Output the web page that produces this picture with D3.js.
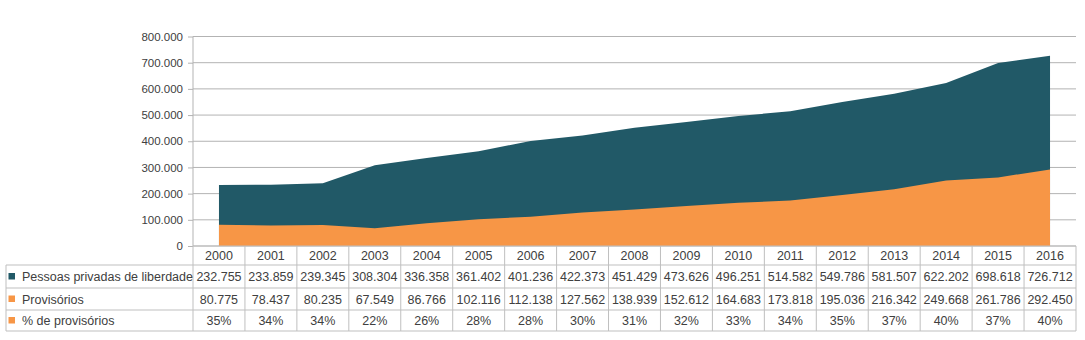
<!DOCTYPE html>
<html>
<head>
<meta charset="utf-8">
<script src="https://cdn.jsdelivr.net/npm/d3@7"></script>
<style>
  html, body { margin: 0; padding: 0; background: #fff; }
  svg text { font-family: "Liberation Sans", Arial, sans-serif; fill: #404040; }
</style>
</head>
<body>
<svg id="chart" width="1085" height="340"></svg>
<script>
// Pessoas privadas de liberdade e presos provisórios, 2000–2016
const years = ["2000","2001","2002","2003","2004","2005","2006","2007","2008","2009","2010","2011","2012","2013","2014","2015","2016"];
const pessoas = [232755, 233859, 239345, 308304, 336358, 361402, 401236, 422373, 451429, 473626, 496251, 514582, 549786, 581507, 622202, 698618, 726712];
const provisorios = [80775, 78437, 80235, 67549, 86766, 102116, 112138, 127562, 138939, 152612, 164683, 173818, 195036, 216342, 249668, 261786, 292450];
const pctLabels = ["35%","34%","34%","22%","26%","28%","28%","30%","31%","32%","33%","34%","35%","37%","40%","37%","40%"];
const yTicks = [0, 100000, 200000, 300000, 400000, 500000, 600000, 700000, 800000];
const seriesNames = ["Pessoas privadas de liberdade", "Provisórios", "% de provisórios"];

const colDark = "#215967";
const colOrange = "#F79646";
const gridCol = "#b3b3b3";

const locale = d3.formatLocale({ decimal: ",", thousands: ".", grouping: [3], currency: ["R$", ""] });
const fmt = locale.format(",d");

const svg = d3.select("#chart");
const plotLeft = 193, plotRight = 1076, plotTop = 36.5, plotBottom = 246;

const x = d3.scaleBand().domain(years).range([plotLeft, plotRight]).paddingInner(0).paddingOuter(0);
const xc = d => x(d) + x.bandwidth() / 2;
const y = d3.scaleLinear().domain([0, 800000]).range([plotBottom, plotTop]);

// gridlines
svg.append("g")
  .selectAll("line")
  .data(yTicks)
  .join("line")
  .attr("x1", plotLeft).attr("x2", plotRight)
  .attr("y1", d => y(d)).attr("y2", d => y(d))
  .attr("stroke", gridCol).attr("stroke-width", 1);

// areas (overlapping, not stacked)
const areaGen = vals => d3.area()
  .x((d, i) => xc(years[i]))
  .y0(y(0))
  .y1(d => y(d))(vals);

svg.append("path").attr("d", areaGen(pessoas)).attr("fill", colDark);
svg.append("path").attr("d", areaGen(provisorios)).attr("fill", colOrange);

// y axis
const yAxis = d3.axisLeft(y).tickValues(yTicks).tickFormat(d => d === 0 ? "0" : fmt(d)).tickSize(5).tickPadding(5);
const gy = svg.append("g").attr("transform", `translate(${plotLeft},0)`).call(yAxis);
gy.select(".domain").attr("stroke", gridCol).attr("d", `M0,${plotTop}V${plotBottom}`);
gy.selectAll(".tick line").attr("stroke", gridCol);
gy.selectAll(".tick text").attr("font-size", 11.5).attr("fill", "#404040")
  .style("font-family", "'Liberation Sans', Arial, sans-serif");

// data table
const rowTops = [246, 265, 288, 310, 331];
const tableLeft = 6;
const tbl = svg.append("g");
const lineCol = "#bfbfbf";

// horizontal lines
tbl.append("line").attr("x1", plotLeft).attr("x2", plotRight).attr("y1", rowTops[0]).attr("y2", rowTops[0]).attr("stroke", lineCol);
rowTops.slice(1).forEach(yy => {
  tbl.append("line").attr("x1", tableLeft).attr("x2", plotRight).attr("y1", yy).attr("y2", yy).attr("stroke", lineCol);
});
// vertical lines
const bounds = years.map(yr => x(yr)).concat([plotRight]);
bounds.forEach(bx => {
  tbl.append("line").attr("x1", bx).attr("x2", bx).attr("y1", rowTops[0]).attr("y2", rowTops[4]).attr("stroke", lineCol);
});
tbl.append("line").attr("x1", tableLeft).attr("x2", tableLeft).attr("y1", rowTops[1]).attr("y2", rowTops[4]).attr("stroke", lineCol);

// year header
tbl.selectAll("text.yr").data(years).join("text")
  .attr("class", "yr")
  .attr("x", d => xc(d)).attr("y", (rowTops[0] + rowTops[1]) / 2 + 4.5)
  .attr("text-anchor", "middle").attr("font-size", 12.5)
  .text(d => d);

const rows = [
  { name: seriesNames[0], color: colDark, labels: pessoas.map(fmt) },
  { name: seriesNames[1], color: colOrange, labels: provisorios.map(fmt) },
  { name: seriesNames[2], color: colOrange, labels: pctLabels }
];

rows.forEach((r, ri) => {
  const cy = (rowTops[ri + 1] + rowTops[ri + 2]) / 2;
  tbl.append("rect").attr("x", 8.5).attr("y", cy - 3.5).attr("width", 6.5).attr("height", 6.5).attr("fill", r.color);
  tbl.append("text").attr("x", 22).attr("y", cy + 4.5).attr("font-size", 12.5).text(r.name);
  tbl.selectAll(null).data(r.labels).join("text")
    .attr("x", (d, i) => xc(years[i])).attr("y", cy + 4.5)
    .attr("text-anchor", "middle").attr("font-size", 12.5)
    .text(d => d);
});
</script>
</body>
</html>
